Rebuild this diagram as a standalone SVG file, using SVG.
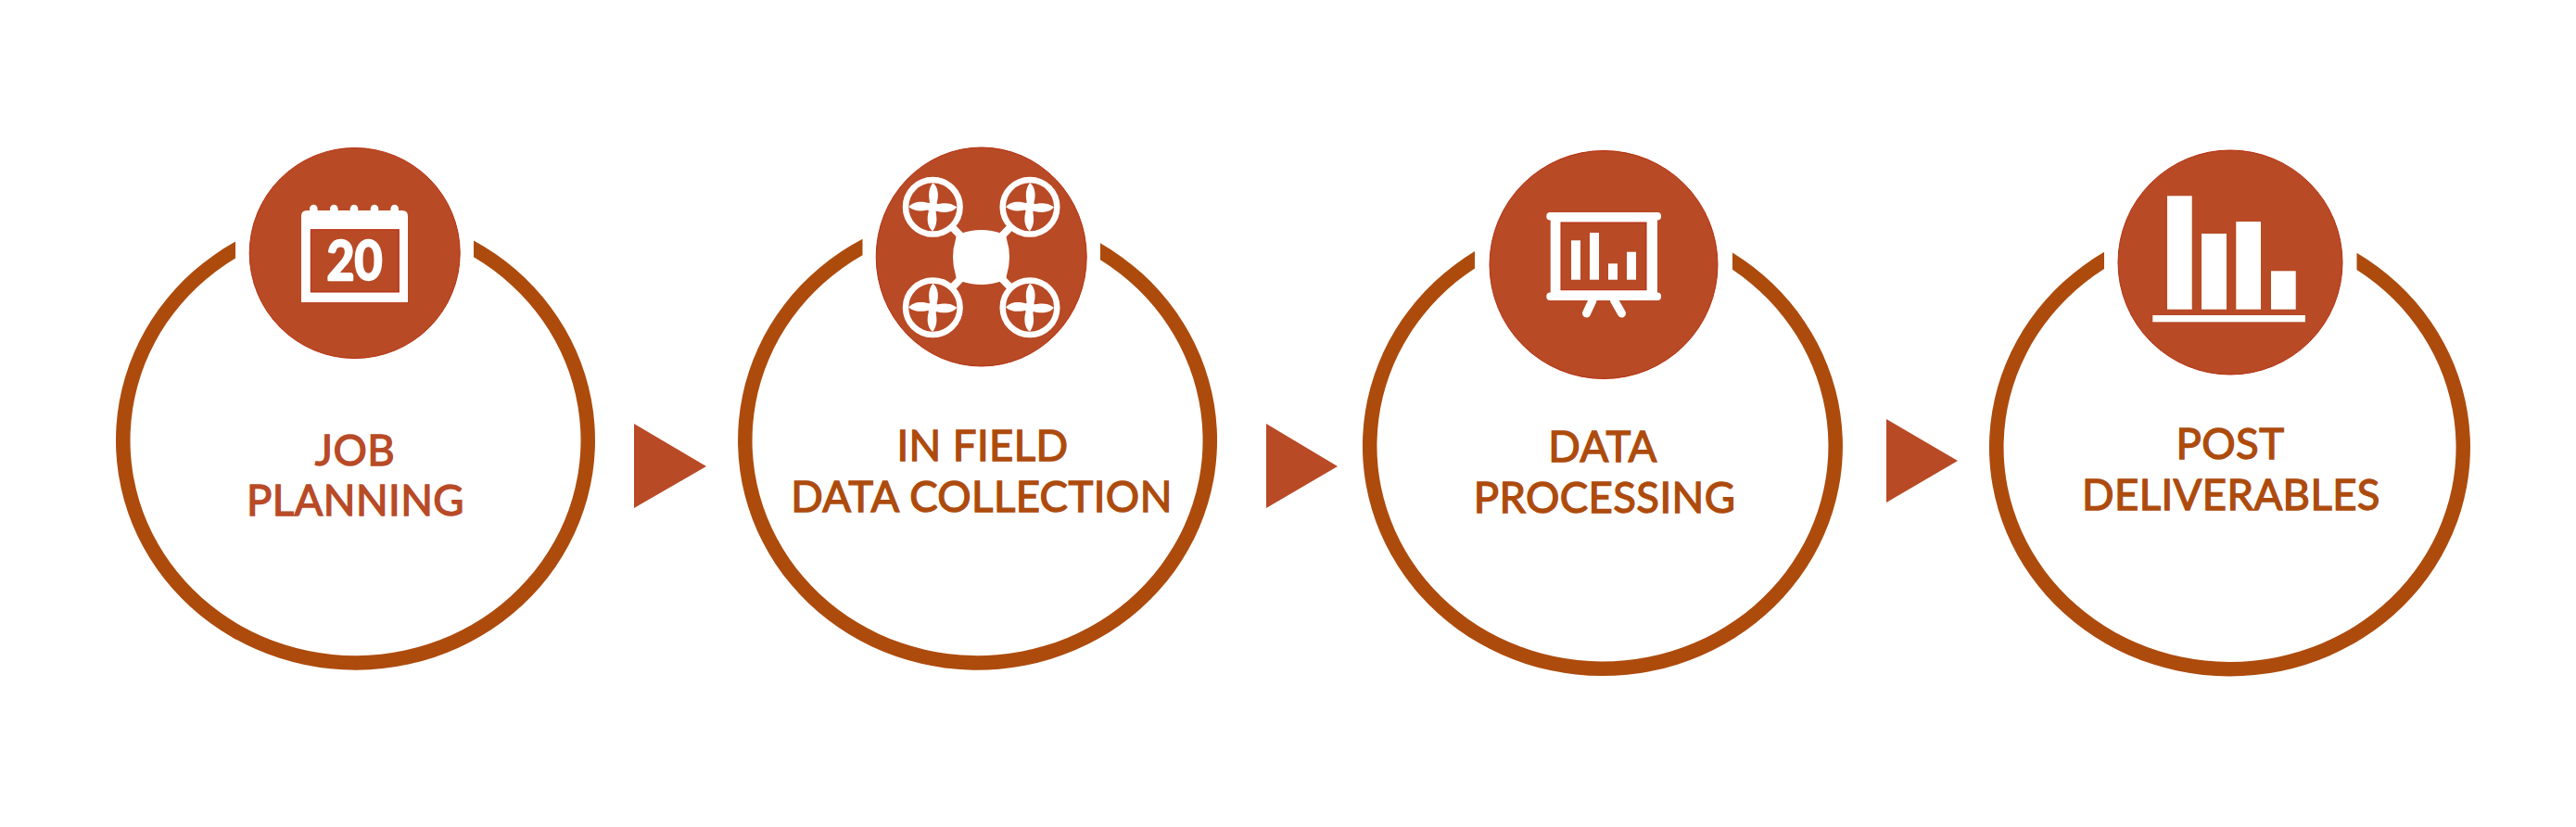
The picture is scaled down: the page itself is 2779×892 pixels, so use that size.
<svg xmlns="http://www.w3.org/2000/svg" width="2779" height="892" viewBox="0 0 2779 892">
<style>
.ring{fill:#AD4B0D}
.disc{fill:#B84A26;stroke:#B5300F;stroke-width:1}
.w{fill:#fff}
.inner{fill:#B84A26;stroke:#B5260F;stroke-width:1}
.ws{fill:none;stroke:#fff}
.lab{font-family:Lato,"Liberation Sans",sans-serif;font-weight:400;font-size:45.5px;letter-spacing:.4px;text-anchor:middle;fill:#AD4B0D;stroke:#AD4B0D;stroke-width:1.3px}
.first{fill:#B84A26;stroke:#B84A26}
.arrow{fill:#B84A26}
</style>
<defs>
<g id="prop">
<circle r="29.3" class="ws" stroke-width="6.5"/>
<circle r="6" class="w"/>
<path class="w" d="M-3,-3C-4,-10 -6,-18 0,-26C6,-22 7,-12 4,-3Z"/>
<path class="w" d="M-3,-3C-4,-10 -6,-18 0,-26C6,-22 7,-12 4,-3Z" transform="rotate(90)"/>
<path class="w" d="M-3,-3C-4,-10 -6,-18 0,-26C6,-22 7,-12 4,-3Z" transform="rotate(180)"/>
<path class="w" d="M-3,-3C-4,-10 -6,-18 0,-26C6,-22 7,-12 4,-3Z" transform="rotate(270)"/>
</g>
</defs>
<rect width="2779" height="892" fill="#fff"/>
<g id="connectors">
<polygon class="arrow" points="684,457 762,503 684,548"/>
<polygon class="arrow" points="1366,457 1443,503 1366,548"/>
<polygon class="arrow" points="2035,452 2112,497 2035,542"/>
</g>
<g id="node-job-planning">
<path class="ring" d="M254,260.6A258.5,247.7 0 1 0 511,259.5L511,277.3A243,232.2 0 1 1 254,278.5Z"/>
<circle class="disc" cx="382.7" cy="273" r="113.5"/>
<path class="w" d="M325,326V233Q325,227 331,227H334V225A4.3,4.3 0 0 1 342.6,225V227H356V225A4.3,4.3 0 0 1 364.6,225V227H377.7V225A4.3,4.3 0 0 1 386.3,225V227H399.7V225A4.3,4.3 0 0 1 408.3,225V227H421.4V225A4.3,4.3 0 0 1 430,225V227H434Q440,227 440,233V326Z"/>
<rect class="inner" x="335.3" y="247.7" width="95" height="67.3"/>
<text x="382.5" y="301.5" font-family="Lato,'Liberation Sans',sans-serif" font-weight="700" font-size="60" fill="#fff" stroke="#fff" stroke-width="2.5" stroke-linejoin="round" text-anchor="middle" textLength="60" lengthAdjust="spacingAndGlyphs">20</text>
<text class="lab first" x="383" y="501.8">JOB</text>
<text class="lab first" x="383.5" y="556.2">PLANNING</text>
</g>
<g id="node-in-field">
<path class="ring" d="M930.5,257.7A258.5,247.7 0 1 0 1187,262.3L1187,280.3A243,232.2 0 1 1 930.5,275.3Z"/>
<ellipse class="disc" cx="1058.7" cy="277" rx="113.5" ry="118"/>
<g stroke="#fff" stroke-width="8">
<line x1="1006.3" y1="223.3" x2="1111" y2="331.7"/>
<line x1="1111" y1="223.3" x2="1006.3" y2="331.7"/>
</g>
<circle class="disc" style="stroke:none" cx="1006.3" cy="223.3" r="29"/>
<circle class="disc" style="stroke:none" cx="1111" cy="223.3" r="29"/>
<circle class="disc" style="stroke:none" cx="1006.3" cy="331.7" r="29"/>
<circle class="disc" style="stroke:none" cx="1111" cy="331.7" r="29"/>
<path class="w" d="M1036,252Q1058.7,244 1081,252Q1086,253 1086,258Q1092,277 1086,297Q1086,302 1081,303Q1058.7,311 1036,303Q1031,302 1031,297Q1025,277 1031,258Q1031,253 1036,252Z"/>
<use href="#prop" x="1006.3" y="223.3"/>
<use href="#prop" x="1111" y="223.3"/>
<use href="#prop" x="1006.3" y="331.7"/>
<use href="#prop" x="1111" y="331.7"/>
<text class="lab" x="1060" y="496.5">IN FIELD</text>
<text class="lab" x="1059" y="551.5">DATA COLLECTION</text>
</g>
<g id="node-data-processing">
<path class="ring" d="M1591,271.1A259,248 0 1 0 1869,272.4L1869,290.8A243.5,232.5 0 1 1 1591,289.4Z"/>
<circle class="disc" cx="1730" cy="285.5" r="123"/>
<rect class="w" x="1668.3" y="229" width="123.7" height="8.5" rx="4"/>
<rect class="w" x="1668.3" y="315.5" width="123.7" height="8.5" rx="4"/>
<rect class="w" x="1672.7" y="229" width="115.3" height="95"/>
<rect class="inner" x="1684" y="240" width="92" height="72.7"/>
<rect class="w" x="1695" y="259.3" width="10" height="42.4"/>
<rect class="w" x="1715" y="251" width="10" height="50.7"/>
<rect class="w" x="1735" y="284.3" width="10" height="17.4"/>
<rect class="w" x="1755" y="271.7" width="10" height="30"/>
<path class="ws" stroke-width="9" stroke-linecap="round" d="M1718,324L1711.5,338M1741.5,324L1749.5,338"/>
<text class="lab" x="1729" y="498.3">DATA</text>
<text class="lab" x="1731" y="552.7">PROCESSING</text>
</g>
<g id="node-post-deliverables">
<path class="ring" d="M2270,271.8A259.5,247 0 1 0 2542.5,272.7L2542.5,290.9A244,231.5 0 1 1 2270,290Z"/>
<circle class="disc" cx="2406" cy="283" r="121"/>
<rect class="w" x="2338" y="211.3" width="26.7" height="122.4"/>
<rect class="w" x="2375" y="252" width="27" height="81.7"/>
<rect class="w" x="2412.3" y="239" width="26.7" height="94.7"/>
<rect class="w" x="2450" y="292.3" width="26.7" height="41.4"/>
<rect class="w" x="2322.3" y="340" width="164.7" height="7.3"/>
<text class="lab" x="2406" y="495">POST</text>
<text class="lab" x="2407" y="550">DELIVERABLES</text>
</g>
</svg>
